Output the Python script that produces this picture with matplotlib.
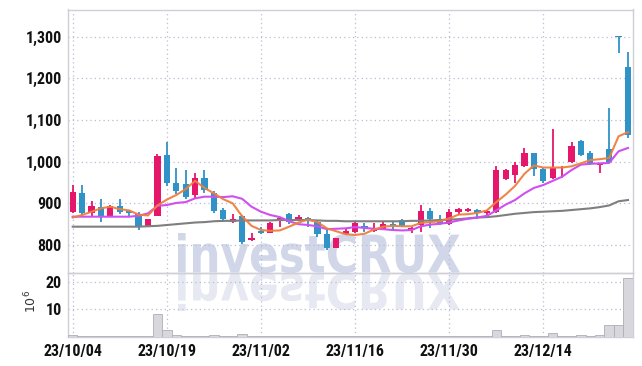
import matplotlib
matplotlib.use("Agg")
import matplotlib.pyplot as plt
from matplotlib.textpath import TextPath
from matplotlib.patches import PathPatch
from matplotlib.font_manager import FontProperties
from matplotlib.transforms import Affine2D
from matplotlib.ticker import FuncFormatter

# trading days 2023/10/04 .. 2023/12/28
dates = ["23/10/04", "23/10/05", "23/10/06", "23/10/10", "23/10/11", "23/10/12", "23/10/13",
         "23/10/16", "23/10/17", "23/10/18", "23/10/19", "23/10/20", "23/10/23", "23/10/24",
         "23/10/25", "23/10/26", "23/10/27", "23/10/30", "23/10/31", "23/11/01", "23/11/02",
         "23/11/03", "23/11/06", "23/11/07", "23/11/08", "23/11/09", "23/11/10", "23/11/13",
         "23/11/14", "23/11/15", "23/11/16", "23/11/17", "23/11/20", "23/11/21", "23/11/22",
         "23/11/23", "23/11/24", "23/11/27", "23/11/28", "23/11/29", "23/11/30", "23/12/01",
         "23/12/04", "23/12/05", "23/12/06", "23/12/07", "23/12/08", "23/12/11", "23/12/12",
         "23/12/13", "23/12/14", "23/12/15", "23/12/18", "23/12/19", "23/12/20", "23/12/21",
         "23/12/22", "23/12/26", "23/12/27", "23/12/28"]

opens = [880, 926, 876, 892, 870, 894, 882, 874, 844, 870,
         1016, 950, 946, 919, 960, 924, 884, 856, 870, 812,
         834, 830, 860, 874, 862, 866, 856, 826, 794, 826,
         832, 846, 834, 838, 850, 860, 836, 848, 882, 860,
         850, 880, 882, 884, 878, 880, 958, 968, 990, 1020,
         982, 960, 984, 1000, 1050, 1020, 992, 1030, 1300, 1228]
highs = [945, 944, 905, 910, 897, 910, 884, 880, 862, 1018,
         1048, 984, 980, 974, 980, 930, 890, 874, 872, 830,
         844, 856, 866, 876, 872, 868, 858, 836, 818, 842,
         856, 852, 854, 858, 856, 862, 844, 896, 890, 872,
         886, 890, 889, 886, 884, 990, 982, 1000, 1032, 1022,
         984, 1078, 990, 1048, 1052, 1026, 998, 1128, 1300, 1264]
lows = [877, 870, 870, 855, 868, 874, 870, 836, 844, 870,
        942, 922, 910, 911, 926, 876, 856, 854, 802, 810,
        826, 828, 844, 850, 860, 844, 820, 788, 792, 824,
        830, 832, 832, 836, 838, 844, 828, 832, 840, 848,
        848, 872, 880, 862, 864, 878, 956, 948, 988, 966,
        948, 958, 960, 998, 1014, 992, 974, 998, 1260, 1058]
closes = [928, 876, 894, 870, 894, 880, 876, 844, 862, 1014,
          948, 930, 916, 960, 932, 882, 862, 862, 808, 818,
          828, 854, 866, 856, 868, 860, 826, 792, 818, 834,
          852, 840, 842, 850, 846, 846, 840, 882, 862, 854,
          880, 886, 887, 878, 882, 980, 980, 992, 1020, 982,
          954, 984, 988, 1038, 1016, 994, 996, 1000, 1299, 1064]

ma5 = [866, 872, 880, 888, 892, 886, 883, 873, 871, 895,
       909, 920, 934, 954, 937, 924, 910, 900, 869, 846,
       836, 834, 835, 844, 854, 861, 855, 840, 833, 826,
       824, 827, 837, 844, 846, 845, 845, 853, 855, 857,
       864, 873, 874, 877, 883, 903, 921, 942, 971, 991,
       986, 986, 986, 989, 996, 1004, 1006, 1009, 1061, 1071]
ma10 = [868, 868, 868, 868, 868, 868, 868, 870, 876, 894,
        896, 901, 903, 912, 916, 916, 915, 917, 911, 892,
        880, 872, 867, 857, 850, 848, 845, 838, 839, 840,
        843, 841, 839, 838, 836, 835, 836, 845, 849, 851,
        854, 859, 863, 866, 870, 883, 897, 908, 924, 937,
        944, 954, 964, 980, 993, 995, 996, 997, 1025, 1033]
ma60 = [844, 844, 844, 844, 844, 844, 844, 844, 845, 846,
        848, 850, 852, 854, 855, 857, 858, 858, 859, 859,
        859, 859, 860, 860, 860, 860, 859, 858, 858, 857,
        857, 857, 857, 857, 857, 857, 858, 858, 859, 860,
        861, 862, 864, 866, 867, 869, 872, 875, 877, 879,
        880, 881, 882, 884, 886, 888, 891, 895, 905, 908]

volume = [0.6, 0.25, 0.1, 0.25, 0.1, 0.1, 0.1, 0.25, 0.1, 8.2,
          2.4, 0.6, 0.3, 0.2, 0.3, 0.6, 0.3, 0.3, 1.0, 0.3,
          0.1, 0.3, 0.2, 0.1, 0.1, 0.3, 0.3, 0.1, 0.1, 0.1,
          0.2, 0.1, 0.1, 0.2, 0.1, 0.1, 0.2, 0.3, 0.3, 0.2,
          0.1, 0.1, 0.1, 0.1, 0.1, 2.4, 0.3, 0.3, 0.6, 0.3,
          0.1, 1.4, 0.2, 0.3, 0.6, 0.3, 0.6, 4.2, 4.2, 21.3]

price_ticks = [800, 900, 1000, 1100, 1200, 1300]
vol_ticks = [10, 20]
x_ticks = [0, 10, 20, 30, 40, 50]

UP = "#e5176b"
DOWN = "#2f93c7"
GRID = "#b9bdd6"
SPINE = "#cfcfd8"
LABEL_FONT = ["Roboto Condensed", "Liberation Sans Narrow", "DejaVu Sans Condensed",
              "Noto Sans Condensed", "Open Sans Condensed", "DejaVu Sans"]

W, H = 642, 366
fig = plt.figure(figsize=(W / 100, H / 100), dpi=100, facecolor="white")

left, right = 68, 632.7
p_top, p_bot, v_bot = 9.5, 272.5, 336.7
ax = fig.add_axes([left / W, (H - p_bot) / H, (right - left) / W, (p_bot - p_top) / H])
axv = fig.add_axes([left / W, (H - v_bot) / H, (right - left) / W, (v_bot - p_bot) / H], sharex=ax)

# watermark with reflection
fp = FontProperties(family="DejaVu Sans", weight="bold")
tp = TextPath((0, 0), "investCRUX", prop=fp, size=10)
bb = tp.get_extents()
sx = (460 - 178) / bb.width
sy = (272.5 - 233) / bb.ymax
base = H - 272.5
t_main = Affine2D().translate(-bb.xmin, 0).scale(sx, sy).translate(178, base)
t_refl = Affine2D().translate(-bb.xmin, 0).scale(sx, -sy * 0.95).translate(178, base - 1)
fig.add_artist(PathPatch(t_main.transform_path(tp), transform=None, color="#d1d7e9",
                         lw=0, zorder=-1))
fig.add_artist(PathPatch(t_refl.transform_path(tp), transform=None, color="#e6e8f2",
                         lw=0, zorder=-1))

for a in (ax, axv):
    a.set_facecolor("none")
    for s in a.spines.values():
        s.set_color(SPINE)
        s.set_linewidth(1)
    a.grid(True, linestyle=(0, (1, 2.5)), color=GRID, linewidth=0.9)
    a.tick_params(length=0, pad=4.5, labelcolor="#111111")

# candles
idx = list(range(len(dates)))
body_bottom = []
body_height = []
colors = []
for o, c in zip(opens, closes):
    body_bottom.append(min(o, c))
    body_height.append(max(abs(c - o), 2.5))
    colors.append(UP if c > o else DOWN)
ax.vlines(idx, lows, highs, colors=colors, linewidth=1.3, zorder=3)
ax.bar(idx, body_height, bottom=body_bottom, width=0.66, color=colors, zorder=3)

ax.plot(idx, ma60, color="#7f7f7f", lw=1.5, zorder=4)
ax.plot(idx, ma10, color="#cf4ff0", lw=1.5, zorder=4)
ax.plot(idx, ma5, color="#ef7f3f", lw=1.5, zorder=4, alpha=0.95)

ax.set_xlim(-0.5, 59.5)
ax.set_ylim(734, 1365.4)
ax.set_yticks(price_ticks)
ax.yaxis.set_major_formatter(FuncFormatter(lambda v, p: f"{int(v):,}"))
ax.tick_params(axis="x", labelbottom=False)

axv.bar(idx, volume, width=1.0, color="#d7d7dd", edgecolor="#aeaeb6", linewidth=0.6, zorder=3)
axv.set_ylim(0, 23.35)
axv.set_yticks(vol_ticks)
axv.set_xticks(x_ticks)
axv.set_xticklabels([dates[i] for i in x_ticks])
axv.tick_params(axis="x", pad=5)

for a in (ax, axv):
    for lab in a.get_yticklabels() + a.get_xticklabels():
        lab.set_family(LABEL_FONT)
        lab.set_fontweight("bold")
        lab.set_fontstretch("condensed")
        lab.set_fontsize(11.5)

fig.text(31 / W, (H - 301) / H, r"$10^6$", rotation=90, ha="center", va="center",
         fontsize=9, color="#333333")

fig.savefig("out.png", dpi=100, facecolor="white")
